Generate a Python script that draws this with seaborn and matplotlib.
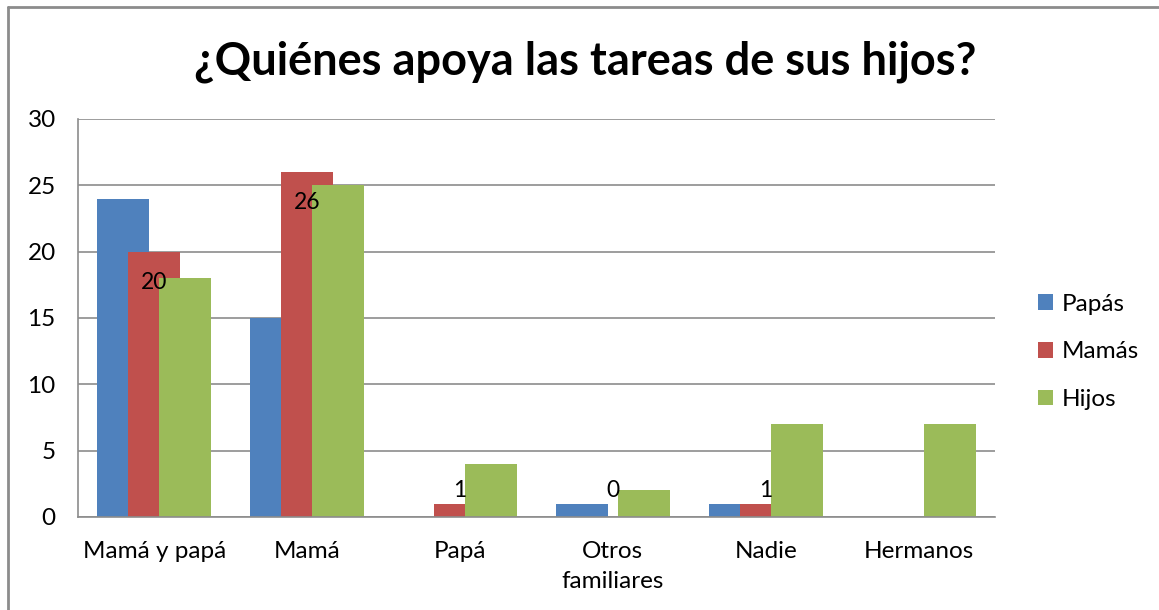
import numpy as np
import pandas as pd
import seaborn as sns
import matplotlib.pyplot as plt
from matplotlib.lines import Line2D
from matplotlib.patches import Patch

categorias = ['Mamá y papá', 'Mamá', 'Papá', 'Otros\nfamiliares', 'Nadie', 'Hermanos']
series = ['Papás', 'Mamás', 'Hijos']
papas = [24, 15, np.nan, 1, 1, np.nan]
mamas = [20, 26, 1, 0, 1, np.nan]
hijos = [18, 25, 4, 2, 7, 7]
colores = ['#4F81BD', '#C0504D', '#9BBB59']

df = pd.DataFrame({
    'categoria': categorias * 3,
    'serie': [s for s in series for _ in categorias],
    'valor': papas + mamas + hijos,
})

sns.set_theme(style='white')
plt.rcParams['font.family'] = ['Lato', 'DejaVu Sans']
plt.rcParams['text.color'] = 'black'
plt.rcParams['xtick.color'] = 'black'
plt.rcParams['ytick.color'] = 'black'

fig = plt.figure(figsize=(11.59, 6.10), dpi=100)
ax = fig.add_axes([0.0673, 0.1525, 0.7912, 0.6525])

sns.barplot(data=df, x='categoria', y='valor', hue='serie', order=categorias,
            hue_order=series, palette=colores, dodge=True, saturation=1,
            legend=False, ax=ax)

# Excel-style overlapping bars
ancho, paso = 0.34, 0.203
for j, cont in enumerate(ax.containers):
    for barra in cont:
        i = int(round(barra.get_x() + barra.get_width() / 2))
        barra.set_width(ancho)
        barra.set_x(i + (j - 1) * paso - ancho / 2)
        barra.set_edgecolor('none')

# data labels on Mamás
for i, v in enumerate(mamas):
    if np.isnan(v):
        continue
    ax.text(i, max(v - 2.3, 2.0), f'{int(v)}', ha='center', va='center',
            fontsize=16.5, color='black')

ax.set_xlim(-0.5, len(categorias) - 0.5)
ax.set_ylim(0, 30)
ax.set_yticks(range(0, 31, 5))
ax.yaxis.grid(True, color='#8c8c8c', linewidth=1.2)
ax.set_axisbelow(True)
ax.set_xlabel('')
ax.set_ylabel('')
for lado in ['top', 'right']:
    ax.spines[lado].set_visible(False)
for lado in ['left', 'bottom']:
    ax.spines[lado].set_color('#8c8c8c')
    ax.spines[lado].set_linewidth(1.2)
ax.tick_params(axis='y', labelsize=17.5, pad=16, length=0)
ax.tick_params(axis='x', labelsize=17.5, pad=17, length=0)
for t in ax.get_xticklabels():
    t.set_linespacing(1.55)

fig.text(0.505, 0.898, '¿Quiénes apoya las tareas de sus hijos?', ha='center',
         va='center', fontsize=32.5, fontweight='bold', color='black')

handles = [Patch(facecolor=c, edgecolor='none') for c in colores]
fig.legend(handles, series, loc='center left', bbox_to_anchor=(0.896, 0.423),
           frameon=False, fontsize=17.5, handlelength=0.6, handleheight=0.6,
           handletextpad=0.35, labelspacing=1.1, borderpad=0, borderaxespad=0)

# chart area border
fig.add_artist(Line2D([8 / 1159, 8 / 1159], [0, 1 - 7 / 610], color='#8c8c8c', linewidth=2))
fig.add_artist(Line2D([8 / 1159, 1], [1 - 7 / 610, 1 - 7 / 610], color='#8c8c8c', linewidth=2))

fig.savefig('out.png', dpi=100)
